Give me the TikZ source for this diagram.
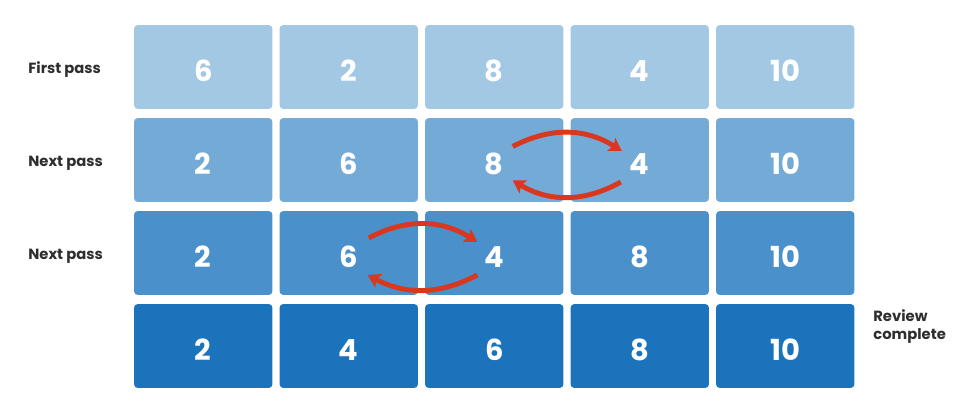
\documentclass[tikz,border=0pt]{standalone}
\usepackage{fontspec}
\setmainfont{Poppins}
\usepackage{xcolor}
\usetikzlibrary{positioning,arrows.meta}
\definecolor{pass1}{HTML}{A3C8E4}
\definecolor{pass2}{HTML}{74AAD6}
\definecolor{pass3}{HTML}{4A90CA}
\definecolor{pass4}{HTML}{1B73BB}
\definecolor{swapred}{HTML}{D9381E}
\definecolor{ink}{HTML}{2E2E2E}
\tikzset{
  cell/.style={rounded corners=2.2pt,minimum width=2.77cm,minimum height=1.68cm,inner sep=0pt,
    text=white,font=\fontsize{16.5}{18}\selectfont\bfseries,text height=16pt,text depth=0pt},
  passlbl/.style={anchor=base west,align=left,text=ink,inner sep=0pt,
    font=\fontsize{8.4}{9.9}\selectfont\bfseries},
  swap/.style={draw=swapred,line width=2.8pt,-{Stealth[length=7pt,width=8.5pt,inset=1.5pt]}},
}
\begin{document}
\begin{tikzpicture}[x=0.02cm,y=-0.02cm]
  \useasboundingbox (0,0) rectangle (970,411);
  \foreach \vals [count=\r] in {{6,2,8,4,10},{2,6,8,4,10},{2,6,4,8,10},{2,4,6,8,10}}
    \foreach \v [count=\c] in \vals
      \node[cell,fill=pass\r] (p\r c\c) at ({203.25+145.5*(\c-1)},{67+93*(\r-1)}) {\v};
  \node[passlbl] (first) at (28,73.3) {First pass};
  \node[passlbl] (next1) at (28,166.3) {Next pass};
  \node[passlbl] (next2) at (28,259.3) {Next pass};
  \node[passlbl] (done) at (873,339.3) {Review\\complete};
  \draw[swap] ([shift={(18.5,-13.5)}]p2c3.center) to[bend left=30] ([shift={(-18,-9)}]p2c4.center);
  \draw[swap] ([shift={(-19,22)}]p2c4.center) to[bend left=30] ([shift={(18.5,20.5)}]p2c3.center);
  \draw[swap] ([shift={(20,-15)}]p3c2.center) to[bend left=30] ([shift={(-17,-11)}]p3c3.center);
  \draw[swap] ([shift={(-17,22)}]p3c3.center) to[bend left=28] ([shift={(19,22)}]p3c2.center);
\end{tikzpicture}
\end{document}
